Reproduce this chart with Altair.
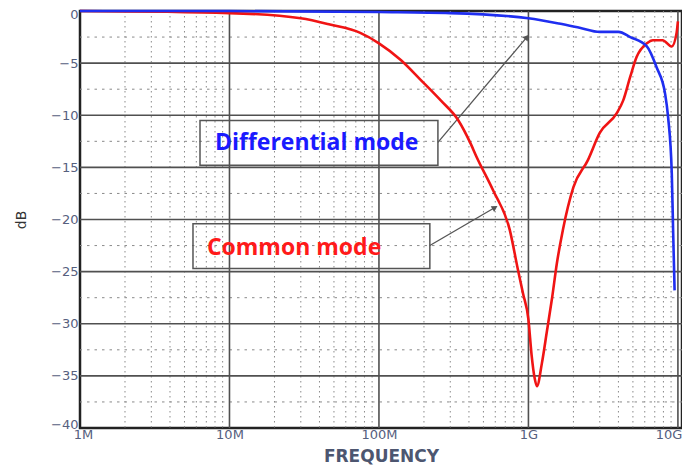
import altair as alt
import pandas as pd

# ---- data ----
red_freq = [1e6, 1e7, 3.0e7, 4.7e7, 7.5e7, 1.0e8, 1.4e8, 1.9e8, 2.6e8, 3.4e8, 4.1e8,
            4.5e8, 5.8e8, 7.5e8, 8.5e8, 9.2e8, 1.0e9, 1.05e9, 1.1e9, 1.14e9, 1.23e9,
            1.33e9, 1.44e9, 1.55e9, 1.7e9, 2.0e9, 2.5e9, 3.0e9, 3.9e9, 4.3e9, 4.8e9,
            5.3e9, 6.2e9, 6.8e9, 7.9e9, 9.1e9, 9.8e9, 1.0e10]
red_db = [0.0, -0.2, -0.7, -1.3, -2.1, -3.1, -4.7, -6.6, -8.6, -10.5, -12.7,
          -14.0, -17.2, -21.0, -24.8, -27.1, -29.6, -33.0, -35.2, -36.0, -33.8,
          -30.7, -27.5, -24.2, -21.0, -16.9, -14.3, -11.7, -9.8, -8.6, -6.3,
          -4.4, -3.1, -2.8, -2.8, -3.4, -2.1, -1.0]

blue_freq = [1e6, 1e7, 1e8, 3e8, 1e9, 1.6e9, 2.2e9, 3.0e9, 4.0e9, 4.8e9, 6.2e9,
             7.2e9, 8.2e9, 8.6e9, 9.1e9, 9.3e9, 9.5e9]
blue_db = [0.0, 0.0, -0.1, -0.2, -0.7, -1.2, -1.6, -2.0, -2.0, -2.5, -3.4,
           -5.4, -7.9, -10.2, -15.6, -21.4, -26.8]

x_tick_values = [1e6, 1e7, 1e8, 1e9, 1e10]
x_tick_labels = ["1M", "10M", "100M", "1G", "10G"]
y_tick_values = [0, -5, -10, -15, -20, -25, -30, -35, -40]

major_x = [1e7, 1e8, 1e9, 1e10]
minor_x = [m * 10 ** k for k in range(6, 10) for m in range(2, 10)]
major_y = [-5, -10, -15, -20, -25, -30, -35]
minor_y = [-2.5, -7.5, -12.5, -17.5, -22.5, -27.5, -32.5, -37.5]

# annotation boxes, labels, arrows (data coordinates)
box_x1 = [6.35e6, 5.7e6]
box_x2 = [2.48e8, 2.19e8]
box_y1 = [-10.5, -20.4]
box_y2 = [-14.8, -24.7]
label_text = ["Differential mode", "Common mode"]
label_x = [8.0e6, 7.06e6]
label_y = [-12.7, -22.7]
label_color = ["#1a1aff", "#ff1a1a"]
arrow_x1 = [2.48e8, 2.19e8]
arrow_y1 = [-12.6, -22.5]
arrow_x2 = [9.77e8, 5.97e8]
arrow_y2 = [-2.5, -18.85]
arrow_angle = [40, 59]

# ---- chart ----
xs = alt.Scale(type="log", domain=[1e6, 1.065e10])
ys = alt.Scale(domain=[-40, 0])

label_map = "{" + ",".join(f"'{int(v)}':'{l}'" for v, l in zip(x_tick_values, x_tick_labels)) + "}"
label_expr = label_map + "[''+datum.value]"

axis_col = "#56607e"

x_axis = alt.Axis(values=x_tick_values, labelExpr=label_expr, title="FREQUENCY",
                  grid=False, domain=False, ticks=False, labelPadding=0,
                  labelFontSize=13, labelColor=axis_col, labelFont="DejaVu Sans",
                  labelAlign={"condition": {"test": "datum.value >= 1e10", "value": "right"},
                              "value": "center"},
                  labelOffset={"condition": [{"test": "datum.value >= 1e10", "value": 4},
                                             {"test": "datum.value <= 1e6", "value": 3}],
                               "value": 0},
                  titleFont="DejaVu Sans", titleFontSize=17, titleFontWeight="bold",
                  titleColor="#4d5670", titleBaseline="alphabetic", titleY=33,
                  labelFlush=False)
y_axis = alt.Axis(values=y_tick_values, title="dB", grid=False, domain=False,
                  ticks=False, labelPadding=2, labelFontSize=13, labelColor=axis_col,
                  labelFont="DejaVu Sans", titleFont="DejaVu Sans", titleFontSize=14,
                  labelOffset={"condition": [{"test": "datum.value == 0", "value": 3},
                                             {"test": "datum.value == -40", "value": -4}],
                               "value": 0},
                  titleFontWeight="normal", titleColor="#333333", titlePadding=22)


def X(field):
    return alt.X(field, scale=xs, axis=x_axis, title="FREQUENCY")


def Y(field):
    return alt.Y(field, scale=ys, axis=y_axis, title="dB")


minor_v = alt.Chart(pd.DataFrame({"f": minor_x})).mark_rule(
    color="#8a8a8a", strokeWidth=1, strokeDash=[1.5, 3.5]).encode(x=X("f:Q"))
minor_h = alt.Chart(pd.DataFrame({"d": minor_y})).mark_rule(
    color="#8a8a8a", strokeWidth=1, strokeDash=[2.5, 5]).encode(y=Y("d:Q"))
major_v = alt.Chart(pd.DataFrame({"f": major_x})).mark_rule(
    color="#505050", strokeWidth=1.6).encode(x=X("f:Q"))
major_h = alt.Chart(pd.DataFrame({"d": major_y})).mark_rule(
    color="#505050", strokeWidth=1.6).encode(y=Y("d:Q"))

boxes = alt.Chart(pd.DataFrame({"x1": box_x1, "x2": box_x2, "y1": box_y1, "y2": box_y2})).mark_rect(
    fill=None, stroke="#555555", strokeWidth=1.5).encode(
    x=X("x1:Q"), x2="x2:Q", y=Y("y1:Q"), y2="y2:Q")

labels = alt.Chart(pd.DataFrame({"x": label_x, "y": label_y, "t": label_text, "c": label_color})).mark_text(
    align="left", baseline="middle", font="Open Sans", fontWeight="bold", fontSize=23).encode(
    x=X("x:Q"), y=Y("y:Q"), text="t:N", color=alt.Color("c:N", scale=None))

arrows = alt.Chart(pd.DataFrame({"x1": arrow_x1, "y1": arrow_y1, "x2": arrow_x2, "y2": arrow_y2})).mark_rule(
    color="#555555", strokeWidth=1.3).encode(
    x=X("x1:Q"), x2="x2:Q", y=Y("y1:Q"), y2="y2:Q")

heads = alt.Chart(pd.DataFrame({"x": arrow_x2, "y": arrow_y2, "a": arrow_angle})).mark_point(
    shape="triangle-up", filled=True, color="#555555", size=45, opacity=1).encode(
    x=X("x:Q"), y=Y("y:Q"), angle=alt.Angle("a:Q", scale=None))

red = alt.Chart(pd.DataFrame({"f": red_freq, "d": red_db})).mark_line(
    color="#f01414", strokeWidth=2.6, interpolate="monotone").encode(x=X("f:Q"), y=Y("d:Q"))
blue = alt.Chart(pd.DataFrame({"f": blue_freq, "d": blue_db})).mark_line(
    color="#1f2ef0", strokeWidth=2.6, interpolate="monotone").encode(x=X("f:Q"), y=Y("d:Q"))

chart = alt.layer(minor_v, minor_h, major_v, major_h, boxes, labels, arrows, heads,
                  red, blue).properties(
    width=602, height=417,
    autosize=alt.AutoSizeParams(type="none"),
    padding={"left": 72, "top": 3, "right": 0, "bottom": 38},
    background="white",
).configure_view(stroke="#222222", strokeWidth=2.5)

chart.save("out.html", embed_options={"renderer": "svg", "actions": False})
